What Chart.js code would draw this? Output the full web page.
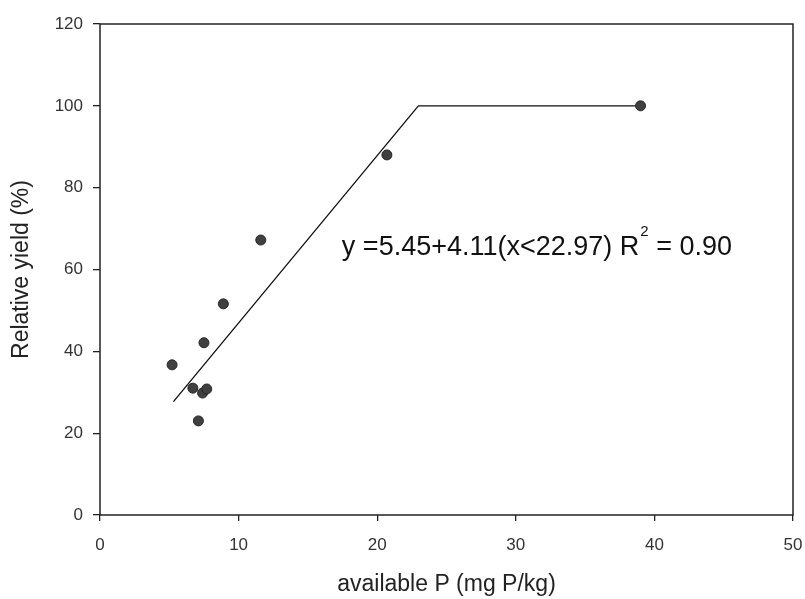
<!DOCTYPE html>
<html>
<head>
<meta charset="utf-8">
<script src="https://cdn.jsdelivr.net/npm/chart.js@4.4.0/dist/chart.umd.min.js"></script>
<style>
  html, body { margin: 0; padding: 0; background: #fff; }
  #wrap { width: 805px; height: 599px; }
</style>
</head>
<body>
<div id="wrap"><canvas id="yield-chart" width="805" height="599"></canvas></div>
<script>
// measured points: available P (mg P/kg) vs relative yield (%)
const availableP = [5.2, 6.7, 7.1, 7.4, 7.5, 7.7, 8.9, 11.6, 20.7, 39.0];
const relYield   = [36.7, 31.0, 23.0, 29.8, 42.1, 30.8, 51.6, 67.2, 88.0, 100];

// linear-plateau fit line, its vertices
const fitX = [5.3, 22.97, 39.0];
const fitY = [27.7, 100, 100];

const xTicks = [0, 10, 20, 30, 40, 50];
const yTicks = [0, 20, 40, 60, 80, 100, 120];

const xTitle = 'available P (mg P/kg)';
const yTitle = 'Relative yield (%)';
const eqnText = ['y =5.45+4.11(x<22.97) R', '2', ' = 0.90'];
const eqnAt = [17.45, 63.6];

const FONT = '"Liberation Sans", Arial, sans-serif';

const framePlugin = {
  id: 'frame',
  beforeDatasetsDraw(chart) {
    const {ctx, chartArea: a} = chart;
    ctx.save();
    ctx.strokeStyle = '#222';
    ctx.lineWidth = 1.5;
    ctx.strokeRect(a.left, a.top, a.right - a.left, a.bottom - a.top);
    ctx.restore();
  },
  afterDatasetsDraw(chart) {
    const ctx = chart.ctx;
    let px = chart.scales.x.getPixelForValue(eqnAt[0]);
    const py = chart.scales.y.getPixelForValue(eqnAt[1]);
    ctx.save();
    ctx.fillStyle = '#111';
    ctx.textBaseline = 'alphabetic';
    ctx.textAlign = 'left';
    ctx.font = '27px ' + FONT;
    ctx.fillText(eqnText[0], px, py);
    px += ctx.measureText(eqnText[0]).width + 1;
    ctx.font = '15px ' + FONT;
    ctx.fillText(eqnText[1], px, py - 19);
    px += ctx.measureText(eqnText[1]).width;
    ctx.font = '27px ' + FONT;
    ctx.fillText(eqnText[2], px, py);
    ctx.restore();
  }
};

const points = availableP.map((x, i) => ({x: x, y: relYield[i]}));
const fitLine = fitX.map((x, i) => ({x: x, y: fitY[i]}));

new Chart(document.getElementById('yield-chart'), {
  type: 'scatter',
  data: {
    datasets: [
      {
        label: 'Relative yield',
        data: points,
        backgroundColor: '#404040',
        borderColor: '#262626',
        borderWidth: 1,
        pointRadius: 5,
        pointHoverRadius: 5
      },
      {
        type: 'line',
        label: 'Linear-plateau',
        data: fitLine,
        showLine: true,
        borderColor: '#111',
        borderWidth: 1.3,
        pointRadius: 0,
        tension: 0,
        fill: false
      }
    ]
  },
  options: {
    responsive: false,
    animation: false,
    layout: { padding: { top: 24, right: 12, left: 0, bottom: 0 } },
    plugins: {
      legend: { display: false },
      tooltip: { enabled: false }
    },
    scales: {
      x: {
        type: 'linear',
        min: 0,
        max: 50,
        afterBuildTicks: s => { s.ticks = xTicks.map(v => ({value: v})); },
        afterFit: s => { s.height = 84; s.paddingRight = 0; s.paddingLeft = 0; },
        border: { display: false },
        grid: { drawOnChartArea: false, drawTicks: true, tickLength: 6, color: '#222', lineWidth: 1.3 },
        ticks: { color: '#333', padding: 14, font: { family: FONT, size: 17 } },
        title: { display: true, text: xTitle, color: '#222', padding: { top: 0, bottom: 1 }, font: { family: FONT, size: 23 } }
      },
      y: {
        type: 'linear',
        min: 0,
        max: 120,
        afterBuildTicks: s => { s.ticks = yTicks.map(v => ({value: v})); },
        afterFit: s => { s.width = 100; s.paddingTop = 0; s.paddingBottom = 0; },
        border: { display: false },
        grid: { drawOnChartArea: false, drawTicks: true, tickLength: 7, color: '#222', lineWidth: 1.3 },
        ticks: { color: '#333', padding: 10, font: { family: FONT, size: 17 } },
        title: { display: true, text: yTitle, color: '#222', padding: { top: 8, bottom: 0 }, font: { family: FONT, size: 23 } }
      }
    }
  },
  plugins: [framePlugin]
});
</script>
</body>
</html>
